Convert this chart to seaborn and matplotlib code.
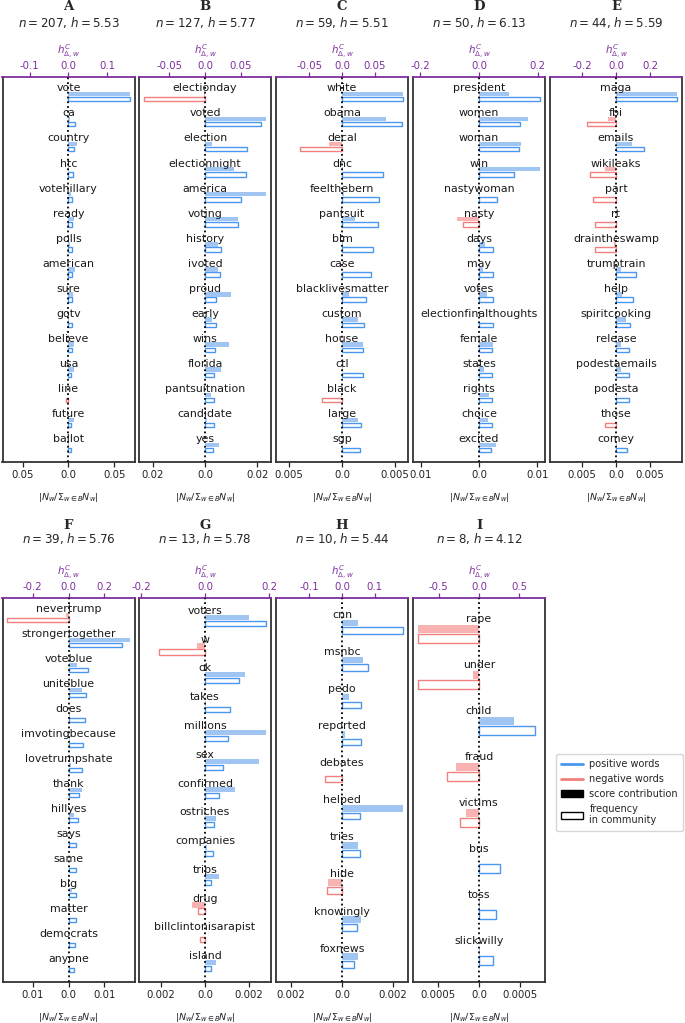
import numpy as np
import pandas as pd
import matplotlib
matplotlib.use("Agg")
import matplotlib.pyplot as plt
import seaborn as sns
from matplotlib.lines import Line2D
from matplotlib.patches import Patch

sns.set_style("white")
plt.rcParams["font.family"] = ["DejaVu Sans"]
plt.rcParams["axes.unicode_minus"] = False

# ---------------- data ----------------
words_A = ["vote", "ca", "country", "htc", "votehillary", "ready", "polls", "american",
           "sure", "gotv", "believe", "usa", "line", "future", "ballot"]
score_A = [0.158, 0.003, 0.021, 0.001, 0.007, 0.013, 0.003, 0.017, 0.011, 0.002, 0.013,
           0.014, -0.001, 0.0145, 0.002]
freq_A = [0.0668, 0.0071, 0.0060, 0.0046, 0.0043, 0.0043, 0.0036, 0.0036, 0.0036, 0.0036,
          0.0036, 0.0032, -0.0030, 0.0032, 0.0032]

words_B = ["electionday", "voted", "election", "electionnight", "america", "voting", "history",
           "ivoted", "proud", "early", "wins", "florida", "pantsuitnation", "candidate", "yes"]
score_B = [-0.002, 0.0856, 0.0102, 0.0407, 0.0861, 0.0463, 0.0176, 0.0176, 0.0361, 0.0093,
           0.0338, 0.0218, 0.0083, 0.0028, 0.019]
freq_B = [-0.0235, 0.0213, 0.0159, 0.0156, 0.0137, 0.0126, 0.0061, 0.0058, 0.0044, 0.0041,
          0.0039, 0.0036, 0.0036, 0.0034, 0.0031]

words_C = ["white", "obama", "decal", "dnc", "feelthebern", "pantsuit", "blm", "case",
           "blacklivesmatter", "custom", "house", "ctl", "black", "large", "sgp"]
score_C = [0.0935, 0.067, -0.020, 0.002, 0.0025, 0.020, 0.001, 0.0005, 0.0105, 0.025, 0.0325,
           0.002, -0.001, 0.024, 0.0005]
freq_C = [0.00578, 0.00563, -0.00397, 0.00384, 0.00347, 0.00340, 0.00288, 0.00272, 0.00222,
          0.00210, 0.00197, 0.00197, -0.00184, 0.00181, 0.00166]

words_D = ["president", "women", "woman", "win", "nastywoman", "nasty", "days", "may", "votes",
           "electionfinalthoughts", "female", "states", "rights", "choice", "excited"]
score_D = [0.1017, 0.168, 0.142, 0.209, 0.002, -0.0734, 0.020, 0.0136, 0.028, 0.001, 0.047,
           0.016, 0.035, 0.0305, 0.0588]
freq_D = [0.01056, 0.00711, 0.00689, 0.00594, 0.00306, -0.00267, 0.00244, 0.00244, 0.00244,
          0.00239, 0.00222, 0.00222, 0.00222, 0.00222, 0.00211]

words_E = ["maga", "fbi", "emails", "wikileaks", "part", "rt", "draintheswamp", "trumptrain",
           "help", "spiritcooking", "release", "podestaemails", "podesta", "those", "comey"]
score_E = [0.361, -0.045, 0.092, -0.065, -0.002, -0.002, -0.012, 0.0275, 0.037, 0.059, 0.029,
           0.0275, 0.004, -0.002, 0.008]
freq_E = [0.00902, -0.00431, 0.00407, -0.00382, -0.00333, -0.00309, -0.00309, 0.00289, 0.00245,
          0.00211, 0.00196, 0.00191, 0.00191, -0.00162, 0.00162]

words_F = ["nevertrump", "strongertogether", "voteblue", "uniteblue", "does", "imvotingbecause",
           "lovetrumpshate", "thank", "hillyes", "says", "same", "big", "matter", "democrats",
           "anyone"]
score_F = [-0.013, 0.343, 0.046, 0.074, 0.0056, 0.009, 0.015, 0.074, 0.031, 0.004, 0.003,
           0.0185, 0.002, 0.002, 0.002]
freq_F = [-0.0171, 0.01495, 0.00533, 0.00495, 0.00449, 0.00393, 0.00374, 0.00299, 0.00252,
          0.00215, 0.00196, 0.00196, 0.00196, 0.00168, 0.00159]

words_G = ["voters", "w", "ok", "takes", "millions", "sex", "confirmed", "ostriches",
           "companies", "trips", "drug", "billclintonisarapist", "island"]
score_G = [0.137, -0.024, 0.124, 0.002, 0.192, 0.169, 0.093, 0.034, 0.007, 0.0446, -0.0415,
           0.0, 0.034]
freq_G = [0.0028, -0.00208, 0.00157, 0.00112, 0.00103, 0.00082, 0.00066, 0.00043, 0.00038,
          0.00028, -0.00031, -0.00023, 0.00026]

words_H = ["cnn", "msnbc", "pedo", "reported", "debates", "helped", "tries", "hide",
           "knowingly", "foxnews"]
score_H = [0.050, 0.065, 0.021, 0.010, -0.001, 0.187, 0.048, -0.042, 0.057, 0.050]
freq_H = [0.00241, 0.00103, 0.00075, 0.00075, -0.00067, 0.00072, 0.00072, -0.00057, 0.00058,
          0.00049]

words_I = ["rape", "under", "child", "fraud", "victims", "bus", "toss", "slickwilly"]
score_I = [-0.7625, -0.071, 0.4375, -0.29, -0.167, 0.004, 0.015, 0.015]
freq_I = [-0.000742, -0.000742, 0.000679, -0.000388, -0.000229, 0.00025, 0.000208, 0.000175]

panel_letters = ["A", "B", "C", "D", "E", "F", "G", "H", "I"]
panel_n = [207, 127, 59, 50, 44, 39, 13, 10, 8]
panel_h = ["5.53", "5.77", "5.51", "6.13", "5.59", "5.76", "5.78", "5.44", "4.12"]
top_ticks = [[-0.1, 0.0, 0.1], [-0.05, 0.0, 0.05], [-0.05, 0.0, 0.05], [-0.2, 0.0, 0.2],
             [-0.2, 0.0, 0.2], [-0.2, 0.0, 0.2], [-0.2, 0.0, 0.2], [-0.1, 0.0, 0.1],
             [-0.5, 0.0, 0.5]]
bottom_ticks = [[-0.05, 0.0, 0.05], [-0.02, 0.0, 0.02], [-0.005, 0.0, 0.005], [-0.01, 0.0, 0.01],
                [-0.005, 0.0, 0.005], [-0.01, 0.0, 0.01], [-0.002, 0.0, 0.002],
                [-0.002, 0.0, 0.002], [-0.0005, 0.0, 0.0005]]

all_words = [words_A, words_B, words_C, words_D, words_E, words_F, words_G, words_H, words_I]
all_scores = [score_A, score_B, score_C, score_D, score_E, score_F, score_G, score_H, score_I]
all_freqs = [freq_A, freq_B, freq_C, freq_D, freq_E, freq_F, freq_G, freq_H, freq_I]

# ---------------- style ----------------
BLUE = "#4a97f0"
BLUE_FILL = "#a0c5f3"
RED = "#f47f7f"
RED_FILL = "#f8b2b2"
PURPLE = "#7e2f9e"
SPINE = "#333333"

W, H = 685, 1023
fig = plt.figure(figsize=(W / 100, H / 100), dpi=100)

col_left = [2.5, 139, 276, 413, 550]
ax_w = 132
rows = [(77, 462), (598, 982)]  # top, bottom in px


def frac_rect(left, top, bottom):
    return [left / W, 1 - bottom / H, ax_w / W, (bottom - top) / H]


for k in range(9):
    r = 0 if k < 5 else 1
    c = k if k < 5 else k - 5
    top_px, bot_px = rows[r]
    ax = fig.add_axes(frac_rect(col_left[c], top_px, bot_px))
    ax2 = ax.twiny()

    words = all_words[k]
    sc = np.array(all_scores[k], dtype=float)
    fr = np.array(all_freqs[k], dtype=float)
    n = len(words)
    idx = np.arange(n)

    df_freq = pd.DataFrame({"pos": idx + 0.43, "val": fr,
                            "sign": np.where(fr >= 0, "positive", "negative")})
    df_score = pd.DataFrame({"pos": idx + 0.22, "val": sc,
                             "sign": np.where(sc >= 0, "positive", "negative")})

    sns.barplot(data=df_freq, x="val", y="pos", hue="sign", orient="y", native_scale=True,
                palette={"positive": BLUE, "negative": RED}, fill=False, width=0.18,
                dodge=False, errorbar=None, legend=False, saturation=1, linewidth=1.0, ax=ax)
    sns.barplot(data=df_score, x="val", y="pos", hue="sign", orient="y", native_scale=True,
                palette={"positive": BLUE_FILL, "negative": RED_FILL}, fill=True, width=0.18,
                dodge=False, errorbar=None, legend=False, saturation=1, linewidth=0, ax=ax2)

    Lb = 1.075 * np.max(np.abs(fr))
    Lt = 1.075 * np.max(np.abs(sc))
    ax.set_xlim(-Lb, Lb)
    ax2.set_xlim(-Lt, Lt)
    ax.set_ylim(n - 0.1, -0.45)

    for i, w in enumerate(words):
        ax2.text(0, i, w, ha="center", va="center", fontsize=7.9, color="#1a1a1a", zorder=10)
    ax2.axvline(0, color="black", ls=":", lw=1.3, zorder=9)

    # bottom axis
    bt = bottom_ticks[k]
    ax.set_xticks(bt)
    ax.set_xticklabels([str(abs(t)) for t in bt])
    ax.tick_params(axis="x", bottom=True, direction="out", length=3.5, width=0.9, pad=2.5,
                   labelsize=7.3, colors="#222222")
    ax.set_yticks([])
    ax.set_ylabel("")
    ax.set_xlabel(r"$|N_w/\Sigma_{w\in B}N_w|$", fontsize=6.8, labelpad=7.5, color="#222222")
    for s in ["left", "right", "bottom"]:
        ax.spines[s].set_color(SPINE)
        ax.spines[s].set_linewidth(1.3)
    ax.spines["top"].set_visible(False)

    # top axis
    tt = top_ticks[k]
    ax2.set_xticks(tt)
    ax2.set_xticklabels([str(t) for t in tt])
    ax2.tick_params(axis="x", top=True, direction="out", length=3.5, width=0.9, pad=0.5,
                    labelsize=7.3, colors=PURPLE)
    ax2.set_yticks([])
    ax2.set_ylabel("")
    ax2.set_xlabel(r"$h^C_{\Delta,w}$", fontsize=7.4, labelpad=4.5, color=PURPLE)
    ax2.spines["top"].set_color(PURPLE)
    ax2.spines["top"].set_linewidth(1.3)
    for s in ["left", "right", "bottom"]:
        ax2.spines[s].set_visible(False)

    cx = (col_left[c] + ax_w / 2) / W
    if r == 0:
        y_letter, y_n = 6, 22
    else:
        y_letter, y_n = 525.5, 539
    fig.text(cx, 1 - y_letter / H, panel_letters[k], ha="center", va="center",
             fontsize=9.5, fontweight="bold", family="DejaVu Serif")
    fig.text(cx, 1 - y_n / H, f"$n = {panel_n[k]}$, $h = {panel_h[k]}$", ha="center",
             va="center", fontsize=8.6)

handles = [Line2D([], [], color=BLUE, lw=2), Line2D([], [], color=RED, lw=2),
           Patch(facecolor="black", edgecolor="black"),
           Patch(facecolor="white", edgecolor="black")]
labels = ["positive words", "negative words", "score contribution", "frequency\nin community"]
fig.legend(handles, labels, loc="upper left", bbox_to_anchor=(551 / W, 1 - 749 / H),
           fontsize=7, frameon=True, handlelength=2.2, borderpad=0.55, labelspacing=0.5,
           handletextpad=0.7)

fig.savefig("out.png", dpi=100)
